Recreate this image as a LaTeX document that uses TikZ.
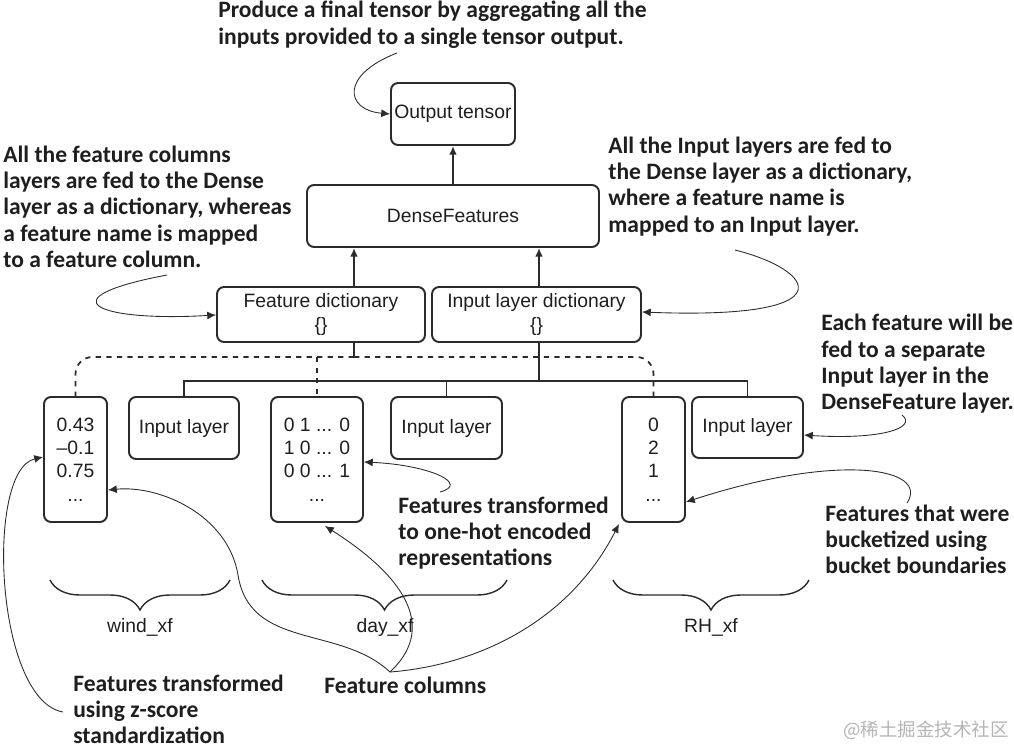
\documentclass[tikz,border=0pt]{standalone}
\usepackage{fontspec}
\setmainfont{Liberation Sans}
\newfontfamily\notefont{Carlito}
\newfontfamily\cjkfont{Noto Sans CJK SC}
\usetikzlibrary{arrows.meta,decorations.pathreplacing}
\definecolor{linegray}{HTML}{2B2B2B}
\definecolor{inkblack}{HTML}{1E1E1E}
\definecolor{markgray}{HTML}{B4B4B4}
\begin{document}
\begin{tikzpicture}[x=0.02cm, y=-0.02cm,
    >={Latex[length=5pt,width=4.5pt]},
    box/.style={draw=linegray, line width=1.1pt, rounded corners=4pt, inner sep=0pt, align=center, text=inkblack, font=\fontsize{11}{13.3}\selectfont},
    link/.style={draw=linegray, line width=1pt},
    feed/.style={link, ->},
    note/.style={anchor=base west, align=left, inner sep=0pt, text=inkblack, font=\notefont\bfseries\fontsize{13.4}{14.8}\selectfont},
    callout/.style={draw=linegray, line width=0.5pt, ->},
    curly/.style={draw=linegray, line width=0.8pt, decorate, decoration={brace, mirror, amplitude=0.6cm}},
    lbl/.style={inner sep=0pt, text=inkblack, font=\fontsize{11}{13}\selectfont}]
    \useasboundingbox (0,0) rectangle (1014,747);

    % output and dense layer
    \node[box, minimum width=2.48cm, minimum height=1.24cm] (out) at (453,114) {Output tensor};
    \node[box, minimum width=5.84cm, minimum height=1.24cm] (dense) at (453,216) {DenseFeatures};
    \node[box, minimum width=4.16cm, minimum height=1.1cm] (fdict) at (321,314.5) {Feature dictionary\\\{\}};
    \node[box, minimum width=4.18cm, minimum height=1.1cm] (idict) at (536.5,314.5) {Input layer dictionary\\\{\}};

    % feature columns and input layers
    \node[box, minimum width=1.26cm, minimum height=2.5cm] (wind) at (75.5,459.5) {0.43\\\textendash0.1\\0.75\\...};
    \node[box, minimum width=2.2cm, minimum height=1.24cm] (in1) at (184,428) {Input layer};
    \node[box, minimum width=1.84cm, minimum height=2.5cm] (day) at (317,459.5) {0 1 ... 0\\1 0 ... 0\\0 0 ... 1\\...};
    \node[box, minimum width=2.22cm, minimum height=1.24cm] (in2) at (446.5,428) {Input layer};
    \node[box, minimum width=1.26cm, minimum height=2.5cm] (rh) at (653.5,459.5) {0\\2\\1\\...};
    \node[box, minimum width=2.22cm, minimum height=1.22cm] (in3) at (747.5,427.5) {Input layer};

    % tree
    \coordinate (fjoin) at (354,357);
    \coordinate (ijoin) at (539,381);
    \draw[feed] (dense.north) -- (out.south);
    \draw[feed] (fdict.north -| fjoin) -- (fjoin |- dense.south);
    \draw[feed] (idict.north -| ijoin) -- (ijoin |- dense.south);
    \draw[link] (fjoin |- fdict.south) -- (fjoin);
    \draw[link] (ijoin |- idict.south) -- (ijoin);
    \draw[link, dashed, rounded corners=0.34cm] (fjoin) -| (wind.north);
    \draw[link, dashed] (fjoin -| day.north) -- (day.north);
    \draw[link, dashed, rounded corners=0.34cm] (fjoin) -| (rh.north);
    \draw[link] (ijoin) -| (in1.north);
    \draw[link] (ijoin) -| (in2.north);
    \draw[link] (ijoin) -| (in3.north);

    % braces
    \draw[curly] (50,580) -- (230,580);
    \draw[curly] (262,580) -- (507,580);
    \draw[curly] (613,580) -- (809,580);
    \node[lbl] (windxf) at (140,627) {wind\_xf};
    \node[lbl] (dayxf) at (385,627) {day\_xf};
    \node[lbl] (rhxf) at (711,627) {RH\_xf};

    % notes (placed at the baseline of their last line)
    \node[note] (noteout) at (218,44) {Produce a final tensor by aggregating all the\\inputs provided to a single tensor output.};
    \node[note] (notefeat) at (3,267) {All the feature columns\\layers are fed to the Dense\\layer as a dictionary, whereas\\a feature name is mapped\\to a feature column.};
    \node[note] (noteinput) at (608,232) {All the Input layers are fed to\\the Dense layer as a dictionary,\\where a feature name is\\mapped to an Input layer.};
    \node[note] (noteeach) at (821,409) {Each feature will be\\fed to a separate\\Input layer in the\\DenseFeature layer.};
    \node[note] (noteonehot) at (398,565) {Features transformed\\to one-hot encoded\\representations};
    \node[note] (notebucket) at (825,573) {Features that were\\bucketized using\\bucket boundaries};
    \node[note] (notecols) at (324,693) {Feature columns};
    \node[note] (notez) at (73,743) {Features transformed\\using z-score\\standardization};
    \node[text=markgray, inner sep=0pt, font=\cjkfont\fontsize{10.5}{12}\selectfont] (mark) at (926,730) {@稀土掘金技术社区};

    % callouts
    \coordinate (tout) at (397,53);
    \coordinate (tfeat) at (167,275);
    \coordinate (tinput) at (735,250);
    \coordinate (teach) at (902,415);
    \coordinate (tonehot) at (440,492);
    \coordinate (tbucket) at (907,503);
    \coordinate (tcols) at (390,672);
    \coordinate (tz) at (63,712);
    \draw[callout] (tout) .. controls (340,75) and (345,110) .. (out.west);
    \draw[callout] (tfeat) .. controls (45,298) and (95,322) .. (fdict.west |- 0,315);
    \draw[callout] (tinput) .. controls (815,270) and (850,320) .. (idict.east |- 0,312);
    \draw[callout] (teach) .. controls (918,428) and (880,440) .. (in3.east |- 0,435);
    \draw[callout] (tonehot) .. controls (470,484) and (430,465) .. (day.east |- 0,462);
    \draw[callout] (tbucket) .. controls (930,468) and (840,452) .. (rh.east |- 0,502);
    \draw[callout] (tcols) .. controls (340,625) and (250,650) .. (238,575) .. controls (228,515) and (160,485) .. (wind.east |- 0,490);
    \draw[callout] (tcols) .. controls (435,630) and (410,580) .. (325,526);
    \draw[callout] (tcols) .. controls (480,665) and (570,620) .. (619,524);
    \draw[callout] (tz) .. controls (-5,700) and (-15,470) .. (wind.west |- 0,457);
\end{tikzpicture}
\end{document}
